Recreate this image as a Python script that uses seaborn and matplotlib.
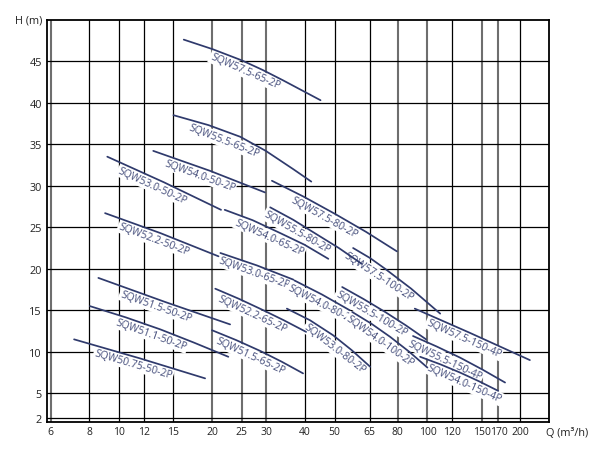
import numpy as np
import pandas as pd
import matplotlib
matplotlib.use('Agg')
import matplotlib.pyplot as plt
import seaborn as sns

# pump models (Q in m3/h, H in m)
models = ['SQW57.5-65-2P', 'SQW55.5-65-2P', 'SQW54.0-50-2P', 'SQW53.0-50-2P',
          'SQW52.2-50-2P', 'SQW54.0-65-2P', 'SQW57.5-80-2P', 'SQW55.5-80-2P',
          'SQW53.0-65-2P', 'SQW54.0-80-2P', 'SQW52.2-65-2P', 'SQW51.5-65-2P',
          'SQW53.0-80-2P', 'SQW57.5-100-2P', 'SQW55.5-100-2P', 'SQW54.0-100-2P',
          'SQW57.5-150-4P', 'SQW55.5-150-4P', 'SQW54.0-150-4P', 'SQW51.5-50-2P',
          'SQW51.1-50-2P', 'SQW50.75-50-2P']

q_points = [[16.2, 20.1, 25, 29.2, 34, 45],
            [15, 19.5, 24.7, 29.9, 36.7, 42],
            [12.9, 19.7, 29.7],
            [9.15, 14, 21.4],
            [9, 13.6, 21],
            [22, 27.1, 33.3, 39.9, 47.7],
            [31.3, 39.6, 50.2, 63.2, 79.6],
            [30.9, 36.7, 43.5, 51.6, 61.2],
            [21.3, 28, 36.7],
            [37, 45.5, 56],
            [20.5, 24.4, 29, 34.2, 40.4],
            [20, 24, 28.7, 33.7, 39.5],
            [35, 41.6, 49.4, 56.8, 65.2],
            [57.4, 65.1, 72.9, 88.6, 110],
            [52.9, 62.1, 72.9, 85, 99],
            [57, 65.7, 75.7, 87, 100],
            [91, 137, 215],
            [89.8, 107, 127.6, 151, 178.6],
            [94.7, 110, 127.6, 147, 169.6],
            [8.56, 14.1, 22.9],
            [8.04, 10.5, 13.6, 17.5, 22.6],
            [7.14, 11.7, 19]]

h_points = [[47.6, 46.45, 45.1, 43.95, 42.7, 40.3],
            [38.5, 37.3, 35.9, 34.2, 32.0, 30.5],
            [34.2, 31.8, 29.2],
            [33.5, 30.4, 27.1],
            [26.7, 24.3, 21.5],
            [27.1, 25.85, 24.3, 22.9, 21.2],
            [30.6, 28.7, 26.6, 24.45, 22.1],
            [27.4, 25.9, 24.2, 22.5, 20.6],
            [21.9, 20.4, 18.7],
            [18.6, 16.9, 15.0],
            [17.6, 16.4, 15.1, 13.8, 12.4],
            [12.6, 11.4, 10.1, 8.8, 7.4],
            [15.2, 13.8, 12.0, 10.2, 8.2],
            [22.5, 21.3, 20.0, 17.6, 14.6],
            [17.8, 16.35, 14.8, 13.2, 11.5],
            [14.8, 13.4, 11.8, 10.05, 8.1],
            [15.2, 12.3, 9.0],
            [11.9, 10.65, 9.3, 7.85, 6.3],
            [9.4, 8.5, 7.5, 6.45, 5.3],
            [18.9, 16.0, 13.3],
            [15.5, 14.15, 12.7, 11.1, 9.4],
            [11.5, 9.2, 6.8]]

# flow where each curve's name starts
label_q = [20.3, 17.2, 14.3, 10.2, 10.2, 24.4, 37.2, 30.5, 21.5, 36.3, 21.5, 21.2,
           41.6, 55.4, 52.1, 56.8, 102, 89, 102, 10.3, 9.94, 8.46]

x_ticks = [6, 8, 10, 12, 15, 20, 25, 30, 40, 50, 65, 80, 100, 120, 150, 170, 200]
y_ticks = [2, 5, 10, 15, 20, 25, 30, 35, 40, 45]
gray_x = [6, 20, 25, 30, 80, 100, 150, 170]

rows = []
for m, qs, hs in zip(models, q_points, h_points):
    for q, h in zip(qs, hs):
        rows.append((m, q, h))
df = pd.DataFrame(rows, columns=['model', 'Q', 'H'])

sns.set_style('white')
plt.rcParams['font.family'] = ['Open Sans', 'DejaVu Sans']

curve_color = '#2f3a6c'
text_color = '#434c7a'

fig = plt.figure(figsize=(6.1, 4.52), dpi=100)
ax = fig.add_axes([0.0766, 0.0648, 0.8234, 0.8894])
sns.lineplot(data=df, x='Q', y='H', units='model', estimator=None, sort=False,
             color=curve_color, linewidth=1.25, ax=ax, zorder=3, legend=False)

ax.set_xscale('log')
ax.set_xlim(5.82, 248)
ax.set_ylim(1.58, 50)
ax.set_xticks(x_ticks)
ax.set_xticklabels([str(v) for v in x_ticks])
ax.xaxis.set_minor_locator(matplotlib.ticker.NullLocator())
ax.set_yticks(y_ticks)
ax.set_yticklabels([str(v) for v in y_ticks])
ax.tick_params(length=0, labelsize=7.8, labelcolor='#222222')
ax.tick_params(axis='x', pad=3, labelsize=7.5)
ax.tick_params(axis='y', pad=3.5)
ax.set_xlabel('')
ax.set_ylabel('')

ax.grid(True, color='black', linewidth=0.9)
ax.set_axisbelow(True)
for v, gl in zip(x_ticks, ax.get_xgridlines()):
    if v in gray_x:
        gl.set_color('#6e6e6e')
        gl.set_linewidth(1.5)
for s in ax.spines.values():
    s.set_color('black')
    s.set_linewidth(1.3)

# names along each curve, just under the line; angle follows the chord under the name
for m, qs, hs, lq in zip(models, q_points, h_points, label_q):
    lx = np.log10(qs)
    l0 = np.log10(lq)
    l1 = min(l0 + 0.21, lx[-1])
    h0 = np.interp(l0, lx, hs)
    h1 = np.interp(l1, lx, hs)
    p1 = ax.transData.transform((lq, h0))
    p2 = ax.transData.transform((10 ** l1, h1))
    a = np.arctan2(p2[1] - p1[1], p2[0] - p1[0])
    d = 1.2
    ax.annotate(m, xy=(lq, h0), xytext=(d * np.sin(a), -d * np.cos(a)),
                textcoords='offset points', rotation=np.degrees(a),
                rotation_mode='anchor', ha='left', va='top', fontsize=7.5,
                color=text_color, zorder=2,
                bbox=dict(boxstyle='square,pad=0.12', fc='white', ec='none'))

ax.text(-0.008, 1.0, 'H (m)', transform=ax.transAxes, ha='right', va='center',
        fontsize=7.8, color='#222222')
ax.text(0.995, -0.027, 'Q (m³/h)', transform=ax.transAxes, ha='left', va='center',
        fontsize=7.8, color='#222222')

fig.savefig('out.png', dpi=100)
